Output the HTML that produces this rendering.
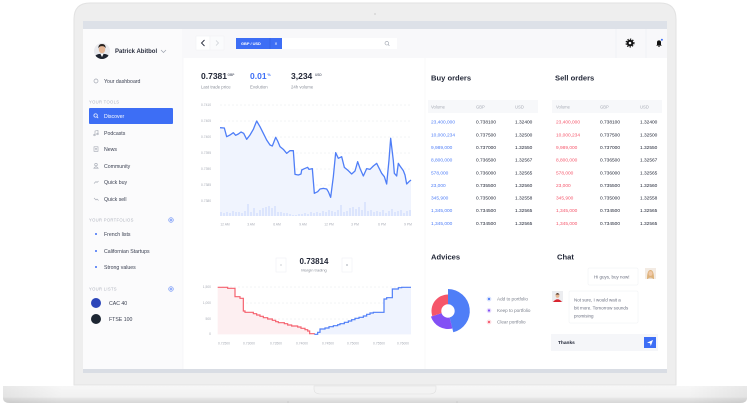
<!DOCTYPE html>
<html><head><meta charset="utf-8">
<style>
html,body{margin:0;padding:0;background:#fff;}
svg{display:block;}
text{font-family:"Liberation Sans",sans-serif;}
.b{font-weight:bold;}
.m{fill:#3b4152;font-size:5.2px;}
.h{fill:#b0b4be;font-size:4.2px;letter-spacing:0.3px;}
.ax{fill:#a8acb6;font-size:3.3px;}
.th{fill:#a8acb6;font-size:4.2px;}
.tv{font-size:4.8px;}
.lg{fill:#7d828e;font-size:4.6px;}
.ch{fill:#6b7080;font-size:4.5px;}
.lb{fill:#8d929c;font-size:4.3px;}
</style></head>
<body>
<svg width="750" height="404" viewBox="0 0 750 404" xmlns="http://www.w3.org/2000/svg">
<defs>
<linearGradient id="base" x1="0" y1="0" x2="0" y2="1">
<stop offset="0" stop-color="#f7f7f7"/><stop offset="0.65" stop-color="#f1f1f1"/><stop offset="0.72" stop-color="#e6e6e6"/><stop offset="1" stop-color="#d6d6d6"/>
</linearGradient>
<linearGradient id="baseh" x1="0" y1="0" x2="1" y2="0">
<stop offset="0" stop-color="#000" stop-opacity="0.06"/><stop offset="0.08" stop-color="#000" stop-opacity="0"/><stop offset="0.92" stop-color="#000" stop-opacity="0"/><stop offset="1" stop-color="#000" stop-opacity="0.06"/>
</linearGradient>
<clipPath id="av"><circle cx="102" cy="51" r="8"/></clipPath>
</defs>

<!-- laptop lid -->
<path d="M74 385 V19 Q74 3 90 3 H660 Q676 3 676 19 V385 Z" fill="#eeeeee" stroke="#e2e2e2" stroke-width="1"/>
<circle cx="375" cy="14" r="0.9" fill="#cfcfcf"/>
<!-- screen -->
<rect x="83" y="21" width="584" height="352" fill="#ffffff"/>
<rect x="83" y="21" width="584" height="8" fill="#dde1e8"/>
<rect x="83" y="369" width="584" height="4" fill="#d9dde4"/>
<!-- base -->
<path d="M3 386 H747 V398 Q747 403 740 403 H10 Q3 403 3 398 Z" fill="url(#base)"/>
<path d="M3 386 H747 V398 Q747 403 740 403 H10 Q3 403 3 398 Z" fill="url(#baseh)"/>
<path d="M314 386 H436 V389 Q436 394 429 394 H321 Q314 394 314 389 Z" fill="#f3f3f3" stroke="#e0e0e0" stroke-width="0.6"/>
<circle cx="288" cy="402" r="0.8" fill="#c8c8c8"/><circle cx="457" cy="402" r="0.8" fill="#c8c8c8"/>

<!-- sidebar -->
<rect x="83" y="29" width="100" height="340" fill="#fbfbfc"/>
<line x1="183" y1="29" x2="183" y2="369" stroke="#f1f2f5" stroke-width="0.6"/>
<line x1="425" y1="58" x2="425" y2="369" stroke="#f3f4f6" stroke-width="0.6"/>
<!-- avatar -->
<g clip-path="url(#av)">
<rect x="94" y="43" width="16" height="16" fill="#e9eaee"/>
<path d="M93 60 Q95 53 102 54 Q109 53 111 60 Z" fill="#1f2430"/>
<path d="M100.5 54 L102 57 L103.5 54 Z" fill="#ffffff"/>
<ellipse cx="102" cy="49.5" rx="3.2" ry="3.8" fill="#e6b796"/>
<path d="M98.4 48.5 Q98 44 102 44 Q106 44 105.6 48.5 Q104.5 46 102 46.2 Q99.5 46 98.4 48.5 Z" fill="#2a2320"/>
</g>
<text x="115" y="53.2" class="b" font-size="6" fill="#2b3040">Patrick Abitbol</text>
<polyline points="161,50 163.5,52.5 166,50" fill="none" stroke="#9aa0ac" stroke-width="0.7"/>

<circle cx="96" cy="81" r="2" fill="none" stroke="#a0a5b0" stroke-width="0.7"/>
<text x="104" y="82.8" class="m">Your dashboard</text>
<text x="89" y="103.5" class="h">YOUR TOOLS</text>
<rect x="89" y="108" width="84" height="16" rx="1" fill="#3d6ef5"/>
<circle cx="95.6" cy="115.5" r="1.7" fill="none" stroke="#fff" stroke-width="0.7"/>
<line x1="96.9" y1="116.8" x2="98.2" y2="118.1" stroke="#fff" stroke-width="0.7"/>
<text x="104" y="117.9" class="m" style="fill:#fff">Discover</text>

<g fill="none" stroke="#a0a5b0" stroke-width="0.6">
<path d="M95 135 V131 L98 130.5 V134"/><circle cx="94.5" cy="135" r="0.8"/><circle cx="97.5" cy="134" r="0.8"/>
<rect x="94" y="146.8" width="4" height="4.5"/><line x1="95" y1="148.3" x2="97" y2="148.3"/><line x1="95" y1="149.8" x2="97" y2="149.8"/>
<circle cx="96" cy="164.6" r="1.3"/><path d="M93.8 168.2 Q96 165.5 98.2 168.2 Z"/>
<path d="M94 183.5 L96 181.5 L97 182.5 L98.5 181"/>
<path d="M94 198 L96 200 L97 199 L98.5 200.5"/>
</g>
<text x="104" y="135" class="m">Podcasts</text>
<text x="104" y="151" class="m">News</text>
<text x="104" y="168" class="m">Community</text>
<text x="104" y="184" class="m">Quick buy</text>
<text x="104" y="201" class="m">Quick sell</text>

<text x="89" y="221.5" class="h">YOUR PORTFOLIOS</text>
<circle cx="171" cy="220" r="2.4" fill="#dbe4fd" stroke="#6a8ff5" stroke-width="0.5"/>
<path d="M169.8 220 H172.2 M171 218.8 V221.2" stroke="#3d6ef5" stroke-width="0.5"/>
<circle cx="96" cy="234" r="1" fill="#3d6ef5"/>
<circle cx="96" cy="251" r="1" fill="#3d6ef5"/>
<circle cx="96" cy="267" r="1" fill="#3d6ef5"/>
<text x="104" y="236" class="m">French lists</text>
<text x="104" y="253" class="m">Californian Startups</text>
<text x="104" y="269" class="m">Strong values</text>

<text x="89" y="290.5" class="h">YOUR LISTS</text>
<circle cx="171" cy="289" r="2.4" fill="#dbe4fd" stroke="#6a8ff5" stroke-width="0.5"/>
<path d="M169.8 289 H172.2 M171 287.8 V290.2" stroke="#3d6ef5" stroke-width="0.5"/>
<circle cx="96" cy="303" r="5" fill="#2b45b9"/>
<circle cx="96" cy="319" r="5" fill="#1d2633"/>
<text x="109" y="304.8" class="m" font-size="5">CAC 40</text>
<text x="109" y="320.8" class="m" font-size="5">FTSE 100</text>

<!-- top bar -->
<rect x="183.3" y="29" width="483.7" height="29" fill="#f8f8fa"/>
<rect x="196" y="36" width="14" height="14" fill="#ffffff" stroke="#eef0f3" stroke-width="0.5"/>
<rect x="210" y="36" width="14" height="14" fill="#fafbfc" stroke="#f0f1f4" stroke-width="0.5"/>
<polyline points="204.5,40 201.5,43 204.5,46" fill="none" stroke="#2b3040" stroke-width="0.9"/>
<polyline points="216,40.5 218.5,43 216,45.5" fill="none" stroke="#c8ccd3" stroke-width="0.7"/>
<rect x="236" y="38" width="46" height="11" fill="#3d6ef5"/>
<line x1="270" y1="38" x2="270" y2="49" stroke="#2f5bd8" stroke-width="0.5"/>
<text x="241" y="45" class="b" font-size="3.9" fill="#fff">GBP / USD</text>
<text x="276" y="45.3" font-size="5" fill="#fff" text-anchor="middle">×</text>
<rect x="282" y="38" width="115" height="11" fill="#ffffff"/>
<circle cx="386.8" cy="43.2" r="1.8" fill="none" stroke="#9aa0ac" stroke-width="0.6"/>
<line x1="388.1" y1="44.5" x2="389.4" y2="45.8" stroke="#9aa0ac" stroke-width="0.6"/>
<line x1="616" y1="29" x2="616" y2="58" stroke="#eceef2" stroke-width="0.6"/>
<line x1="646" y1="29" x2="646" y2="58" stroke="#eceef2" stroke-width="0.6"/>
<circle cx="630" cy="43" r="3.3" fill="#111"/>
<circle cx="630" cy="43" r="3.9" fill="none" stroke="#111" stroke-width="1.2" stroke-dasharray="1.3 1.3"/>
<circle cx="630" cy="43" r="1.3" fill="#f8f8fa"/>
<path d="M656.2 45.6 H661.8 L661 44.6 V42.4 A2 2 0 0 0 657 42.4 V44.6 Z" fill="#111"/>
<circle cx="659" cy="46.4" r="0.7" fill="#111"/>
<circle cx="661.9" cy="39.8" r="1" fill="#3d6ef5"/>

<!-- stats -->
<text x="201" y="79" class="b" font-size="8.5" fill="#232838">0.7381</text>
<text x="227.5" y="76" class="b" font-size="3.2" fill="#6f7482">GBP</text>
<text x="201" y="88.5" class="lb">Last trade price</text>
<text x="250" y="79" class="b" font-size="8.5" fill="#3d6ef5">0.01</text>
<text x="267.5" y="76" class="b" font-size="3.6" fill="#3d6ef5">%</text>
<text x="250" y="88.5" class="lb">Evolution</text>
<text x="291" y="79" class="b" font-size="8.5" fill="#232838">3,234</text>
<text x="315" y="76" class="b" font-size="3.2" fill="#6f7482">USD</text>
<text x="291" y="88.5" class="lb">24h volume</text>

<!-- top chart -->
<g stroke="#e6e8ed" stroke-width="0.5" stroke-dasharray="2 2">
<line x1="220" y1="105" x2="411" y2="105"/><line x1="220" y1="121" x2="411" y2="121"/>
<line x1="220" y1="137" x2="411" y2="137"/><line x1="220" y1="153" x2="411" y2="153"/>
<line x1="220" y1="169" x2="411" y2="169"/><line x1="220" y1="185" x2="411" y2="185"/>
<line x1="220" y1="201" x2="411" y2="201"/>
</g>
<text x="201" y="106.2" class="ax">0.7410</text>
<text x="201" y="122.2" class="ax">0.7405</text>
<text x="201" y="138.2" class="ax">0.7400</text>
<text x="201" y="154.2" class="ax">0.7395</text>
<text x="201" y="170.2" class="ax">0.7390</text>
<text x="201" y="186.2" class="ax">0.7385</text>
<text x="201" y="202.2" class="ax">0.7380</text>
<g transform="translate(185 60) scale(0.333333)">
<path d="M105,203 L118,204 125,230 135,225 145,218 152,226 160,222 168,216 176,220 185,238 195,225 205,208 215,183 225,200 235,220 245,240 255,255 262,258 272,232 278,243 285,260 295,268 305,280 315,272 325,272 330,343 340,345 348,342 350,330 358,326 368,322 372,328 382,326 388,400 398,395 405,387 415,385 425,387 430,395 437,412 445,350 452,278 460,295 470,290 478,322 490,332 500,342 510,333 518,305 525,325 535,348 545,326 555,328 565,318 575,310 580,320 590,340 598,350 605,372 612,300 617,235 625,302 628,340 635,348 640,310 645,318 655,332 660,345 665,372 672,365 678,360 L678,468 L105,468 Z" fill="#f0f4fe"/>
</g>
<g fill="#dce5fd">
<rect x="220" y="212" width="2" height="4"/><rect x="223" y="213" width="2" height="3"/><rect x="226" y="212" width="2" height="4"/><rect x="229" y="213" width="2" height="3"/>
<rect x="232" y="211" width="2" height="5"/><rect x="235" y="212" width="2" height="4"/><rect x="238" y="212" width="2" height="4"/><rect x="241" y="213" width="2" height="3"/>
<rect x="244" y="211" width="2" height="5"/><rect x="247" y="204" width="2" height="12"/><rect x="250" y="212" width="2" height="4"/><rect x="253" y="208" width="2" height="8"/>
<rect x="256" y="213" width="2" height="3"/><rect x="259" y="210" width="2" height="6"/><rect x="262" y="208" width="2" height="8"/><rect x="265" y="207" width="2" height="9"/>
<rect x="268" y="206" width="2" height="10"/><rect x="271" y="208" width="2" height="8"/><rect x="274" y="206" width="2" height="10"/><rect x="277" y="212" width="2" height="4"/>
<rect x="280" y="212" width="2" height="4"/><rect x="283" y="213" width="2" height="3"/><rect x="286" y="213" width="2" height="3"/><rect x="289" y="214" width="2" height="2"/>
<rect x="292" y="215" width="2" height="1"/><rect x="295" y="215" width="2" height="1"/><rect x="298" y="214" width="2" height="2"/><rect x="301" y="214" width="2" height="2"/>
<rect x="304" y="213" width="2" height="3"/><rect x="307" y="214" width="2" height="2"/><rect x="310" y="212" width="2" height="4"/><rect x="313" y="213" width="2" height="3"/>
<rect x="316" y="212" width="2" height="4"/><rect x="319" y="213" width="2" height="3"/><rect x="322" y="211" width="2" height="5"/><rect x="325" y="212" width="2" height="4"/>
<rect x="328" y="210" width="2" height="6"/><rect x="331" y="211" width="2" height="5"/><rect x="334" y="212" width="2" height="4"/><rect x="337" y="210" width="2" height="6"/>
<rect x="340" y="205" width="2" height="11"/><rect x="343" y="212" width="2" height="4"/><rect x="346" y="211" width="2" height="5"/><rect x="349" y="208" width="2" height="8"/>
<rect x="352" y="207" width="2" height="9"/><rect x="355" y="209" width="2" height="7"/><rect x="358" y="207" width="2" height="9"/><rect x="361" y="210" width="2" height="6"/>
<rect x="364" y="202" width="2" height="14"/><rect x="367" y="211" width="2" height="5"/><rect x="370" y="210" width="2" height="6"/><rect x="373" y="212" width="2" height="4"/>
<rect x="376" y="211" width="2" height="5"/><rect x="379" y="212" width="2" height="4"/><rect x="382" y="210" width="2" height="6"/><rect x="385" y="213" width="2" height="3"/>
<rect x="388" y="211" width="2" height="5"/><rect x="391" y="209" width="2" height="7"/><rect x="394" y="212" width="2" height="4"/><rect x="397" y="211" width="2" height="5"/>
<rect x="400" y="210" width="2" height="6"/><rect x="403" y="213" width="2" height="3"/><rect x="406" y="211" width="2" height="5"/><rect x="409" y="210" width="2" height="6"/>
</g>
<g transform="translate(185 60) scale(0.333333)">
<polyline points="105,203 118,204 125,230 135,225 145,218 152,226 160,222 168,216 176,220 185,238 195,225 205,208 215,183 225,200 235,220 245,240 255,255 262,258 272,232 278,243 285,260 295,268 305,280 315,272 325,272 330,343 340,345 348,342 350,330 358,326 368,322 372,328 382,326 388,400 398,395 405,387 415,385 425,387 430,395 437,412 445,350 452,278 460,295 470,290 478,322 490,332 500,342 510,333 518,305 525,325 535,348 545,326 555,328 565,318 575,310 580,320 590,340 598,350 605,372 612,300 617,235 625,302 628,340 635,348 640,310 645,318 655,332 660,345 665,372 672,365 678,360" fill="none" stroke="#4f7ef7" stroke-width="1.3" vector-effect="non-scaling-stroke" stroke-linejoin="round"/>
</g>
<g text-anchor="middle">
<text x="225" y="225.5" class="ax">12 AM</text><text x="251" y="225.5" class="ax">3 AM</text>
<text x="277" y="225.5" class="ax">6 AM</text><text x="303" y="225.5" class="ax">9 AM</text>
<text x="329" y="225.5" class="ax">12 PM</text><text x="355" y="225.5" class="ax">3 PM</text>
<text x="382" y="225.5" class="ax">6 PM</text><text x="408" y="225.5" class="ax">9 PM</text>
</g>

<!-- margin trading -->
<rect x="276" y="258" width="10" height="14" fill="#fff" stroke="#eceef2" stroke-width="0.5"/>
<rect x="342" y="258" width="10" height="14" fill="#fff" stroke="#eceef2" stroke-width="0.5"/>
<line x1="280" y1="265" x2="282" y2="265" stroke="#9aa0ac" stroke-width="0.5"/>
<path d="M346 265 H348 M347 264 V266" stroke="#9aa0ac" stroke-width="0.5"/>
<text x="314" y="264" class="b" font-size="8" fill="#232838" text-anchor="middle">0.73814</text>
<text x="314" y="271.5" font-size="4" fill="#8d929c" text-anchor="middle">Margin trading</text>
<g stroke="#e6e8ed" stroke-width="0.5" stroke-dasharray="2 2">
<line x1="218" y1="287" x2="411" y2="287"/><line x1="218" y1="303" x2="411" y2="303"/><line x1="218" y1="319" x2="411" y2="319"/>
</g>
<g text-anchor="end">
<text x="211" y="288.2" class="ax">1,500</text><text x="211" y="304.2" class="ax">1,000</text>
<text x="211" y="320.2" class="ax">500</text><text x="211" y="335.2" class="ax">0</text>
</g>
<g transform="translate(185 235) scale(0.333333)">
<path d="M98 157 H128 V160 H150 V185 H165 V190 H175 V228 H180 V232 H205 V236 H215 V240 H225 V244 H235 V248 H248 V252 H262 V256 H272 V260 H280 V263 H298 V266 H308 V270 H320 V273 H338 V276 H348 V280 H360 V284 H368 V288 H374 V296 H388 V298 H98 Z" fill="#fdeff1"/>
<path d="M388 298 H398 V292 H405 V282 H420 V279 H432 V275 H445 V272 H458 V269 H465 V266 H478 V262 H490 V258 H500 V254 H510 V250 H522 V247 H535 V243 H545 V238 H555 V234 H565 V232 H597 V192 H605 V188 H622 V162 H640 V158 H650 V157 H678 V298 Z" fill="#eff3fe"/>
<path d="M98 157 H128 V160 H150 V185 H165 V190 H175 V228 H180 V232 H205 V236 H215 V240 H225 V244 H235 V248 H248 V252 H262 V256 H272 V260 H280 V263 H298 V266 H308 V270 H320 V273 H338 V276 H348 V280 H360 V284 H368 V288 H374 V296 H388 V298" fill="none" stroke="#f5626f" stroke-width="1.2" vector-effect="non-scaling-stroke"/>
<path d="M388 298 H398 V292 H405 V282 H420 V279 H432 V275 H445 V272 H458 V269 H465 V266 H478 V262 H490 V258 H500 V254 H510 V250 H522 V247 H535 V243 H545 V238 H555 V234 H565 V232 H597 V192 H605 V188 H622 V162 H640 V158 H650 V157 H678" fill="none" stroke="#4f7ef7" stroke-width="1.2" vector-effect="non-scaling-stroke"/>
</g>
<g text-anchor="middle">
<text x="224" y="344.5" class="ax">0.72500</text><text x="249" y="344.5" class="ax">0.73000</text>
<text x="276" y="344.5" class="ax">0.73500</text><text x="302" y="344.5" class="ax">0.74000</text>
<text x="328" y="344.5" class="ax">0.74500</text><text x="353" y="344.5" class="ax">0.75000</text>
<text x="379" y="344.5" class="ax">0.75500</text><text x="403" y="344.5" class="ax">0.76000</text>
</g>

<!-- order books -->
<text x="431" y="80.7" class="b" font-size="7.6" fill="#232838">Buy orders</text>
<text x="555" y="80.7" class="b" font-size="7.6" fill="#232838">Sell orders</text>
<rect x="428" y="100" width="110" height="13" fill="#f7f8fa"/>
<rect x="552" y="100" width="110" height="13" fill="#f7f8fa"/>
<text x="431" y="108.5" class="th">Volume</text><text x="476" y="108.5" class="th">GBP</text><text x="515" y="108.5" class="th">USD</text>
<text x="556" y="108.5" class="th">Volume</text><text x="600" y="108.5" class="th">GBP</text><text x="640" y="108.5" class="th">USD</text>

<g fill="#4f7ef7">
<text x="431" y="123.7" class="tv">23,400,000</text>
<text x="431" y="136.4" class="tv">10,000,234</text>
<text x="431" y="149" class="tv">9,989,000</text>
<text x="431" y="161.7" class="tv">8,800,000</text>
<text x="431" y="174.3" class="tv">578,000</text>
<text x="431" y="187" class="tv">23,000</text>
<text x="431" y="199.6" class="tv">345,900</text>
<text x="431" y="212.2" class="tv">1,345,000</text>
<text x="431" y="224.9" class="tv">1,345,000</text>
</g>
<g fill="#f5576c">
<text x="556" y="123.7" class="tv">23,400,000</text>
<text x="556" y="136.4" class="tv">10,000,234</text>
<text x="556" y="149" class="tv">9,989,000</text>
<text x="556" y="161.7" class="tv">8,800,000</text>
<text x="556" y="174.3" class="tv">578,000</text>
<text x="556" y="187" class="tv">23,000</text>
<text x="556" y="199.6" class="tv">345,900</text>
<text x="556" y="212.2" class="tv">1,345,000</text>
<text x="556" y="224.9" class="tv">1,345,000</text>
</g>
<g fill="#232838">
<text x="476" y="123.7" class="tv">0.738100</text><text x="515" y="123.7" class="tv">1.32400</text>
<text x="476" y="136.4" class="tv">0.737500</text><text x="515" y="136.4" class="tv">1.32500</text>
<text x="476" y="149" class="tv">0.737000</text><text x="515" y="149" class="tv">1.32550</text>
<text x="476" y="161.7" class="tv">0.736500</text><text x="515" y="161.7" class="tv">1.32567</text>
<text x="476" y="174.3" class="tv">0.736000</text><text x="515" y="174.3" class="tv">1.32565</text>
<text x="476" y="187" class="tv">0.735500</text><text x="515" y="187" class="tv">1.32560</text>
<text x="476" y="199.6" class="tv">0.735000</text><text x="515" y="199.6" class="tv">1.32558</text>
<text x="476" y="212.2" class="tv">0.734500</text><text x="515" y="212.2" class="tv">1.32565</text>
<text x="476" y="224.9" class="tv">0.734500</text><text x="515" y="224.9" class="tv">1.32565</text>
<text x="600" y="123.7" class="tv">0.738100</text><text x="640" y="123.7" class="tv">1.32400</text>
<text x="600" y="136.4" class="tv">0.737500</text><text x="640" y="136.4" class="tv">1.32500</text>
<text x="600" y="149" class="tv">0.737000</text><text x="640" y="149" class="tv">1.32550</text>
<text x="600" y="161.7" class="tv">0.736500</text><text x="640" y="161.7" class="tv">1.32567</text>
<text x="600" y="174.3" class="tv">0.736000</text><text x="640" y="174.3" class="tv">1.32565</text>
<text x="600" y="187" class="tv">0.735500</text><text x="640" y="187" class="tv">1.32560</text>
<text x="600" y="199.6" class="tv">0.735000</text><text x="640" y="199.6" class="tv">1.32558</text>
<text x="600" y="212.2" class="tv">0.734500</text><text x="640" y="212.2" class="tv">1.32565</text>
<text x="600" y="224.9" class="tv">0.734500</text><text x="640" y="224.9" class="tv">1.32565</text>
</g>

<!-- advices -->
<text x="431" y="259.7" class="b" font-size="7.6" fill="#232838">Advices</text>
<path d="M448 289 A22 22 0 0 1 453.3 332.3 L449.6 317.5 A6.7 6.7 0 0 0 448 304.3 Z" fill="#4f7ef7"/>
<path d="M452.4 328.5 A18 18 0 0 1 430.9 316.6 L441.6 313.1 A6.7 6.7 0 0 0 449.6 317.5 Z" fill="#8350f5"/>
<path d="M432.3 316.1 A16.5 16.5 0 0 1 448 294.5 L448 304.3 A6.7 6.7 0 0 0 441.6 313.1 Z" fill="#f5566a"/>
<circle cx="489" cy="299" r="2.4" fill="#d9e3fe"/><circle cx="489" cy="299" r="1.1" fill="#4f7ef7"/>
<circle cx="489" cy="310.5" r="2.4" fill="#e5dafd"/><circle cx="489" cy="310.5" r="1.1" fill="#8350f5"/>
<circle cx="489" cy="322" r="2.4" fill="#fddde2"/><circle cx="489" cy="322" r="1.1" fill="#f5566a"/>
<text x="497" y="300.6" class="lg">Add to portfolio</text>
<text x="497" y="312.1" class="lg">Keep to portfolio</text>
<text x="497" y="323.6" class="lg">Clear portfolio</text>

<!-- chat -->
<text x="557" y="259.3" class="b" font-size="7.6" fill="#232838">Chat</text>
<rect x="588" y="268" width="50" height="17" rx="1" fill="#fff" stroke="#eef0f3" stroke-width="0.5"/>
<text x="594" y="278.6" class="ch">Hi guys, buy now!</text>
<rect x="645" y="268" width="11" height="11" fill="#f3ebe3"/>
<path d="M647 279 Q647 270 650.5 270 Q654 270 654 279 Z" fill="#ddb27a"/>
<ellipse cx="650.5" cy="273.5" rx="2" ry="2.4" fill="#f0c9a8"/>
<path d="M647.5 279 Q650.5 276 653.5 279 Z" fill="#e8dcd0"/>
<rect x="552" y="291" width="11" height="11" fill="#ecedf0"/>
<path d="M553 302 Q557.5 296.5 562 302 Z" fill="#d9252f"/>
<ellipse cx="557.5" cy="295.5" rx="2" ry="2.4" fill="#e7b894"/>
<path d="M555.5 294.5 Q557.5 291.8 559.5 294.5 Z" fill="#3a2a22"/>
<rect x="569" y="291" width="69" height="32" rx="1" fill="#fff" stroke="#eef0f3" stroke-width="0.5"/>
<text x="574" y="301.6" class="ch">Not sure, I would wait a</text>
<text x="574" y="309.3" class="ch">bit more. Tomorrow sounds</text>
<text x="574" y="317.3" class="ch">promising</text>
<rect x="551" y="334" width="107" height="17" fill="#f5f6f9"/>
<text x="558" y="343.8" class="b" font-size="4.8" fill="#232838">Thanks</text>
<rect x="644" y="337" width="12" height="11" fill="#3d6ef5"/>
<path d="M647 342.6 L653 340 L650.8 346 L650 343.3 Z" fill="#fff"/>
</svg>
</body></html>
